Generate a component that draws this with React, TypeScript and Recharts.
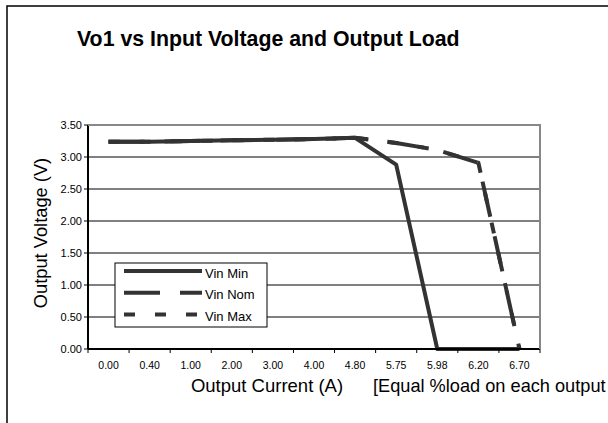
import { LineChart, Line, XAxis, YAxis, CartesianGrid } from 'recharts';

const categories = ['0.00', '0.40', '1.00', '2.00', '3.00', '4.00', '4.80', '5.75', '5.98', '6.20', '6.70'];
const vinMin = [3.24, 3.24, 3.25, 3.26, 3.27, 3.28, 3.30, 2.88, 0, 0, 0];
const vinNom = [3.24, 3.24, 3.25, 3.26, 3.27, 3.28, 3.30, 3.22, 3.11, 2.91, 0];
const vinMax = [3.24, 3.24, 3.25, 3.26, 3.27, 3.28, 3.30, 3.22, 3.11, 2.91, 0];
const yTicks = [0, 0.5, 1, 1.5, 2, 2.5, 3, 3.5];

const series = [
  { key: 'min', name: 'Vin Min', values: vinMin, dash: undefined },
  { key: 'nom', name: 'Vin Nom', values: vinNom, dash: '36 20' },
  { key: 'max', name: 'Vin Max', values: vinMax, dash: '11 20' },
];

const data = categories.map((c, i) => ({
  current: c,
  min: vinMin[i],
  nom: vinNom[i],
  max: vinMax[i],
}));

const FONT = '"Liberation Sans", Arial, sans-serif';
const W = 608;
const H = 423;
const PLOT_W = 452;
const HALF = PLOT_W / categories.length / 2;
const LINE = '#333333';

function XTick(props: any) {
  const { x, y, payload } = props;
  const i = payload.index;
  const axisY = y - 6;
  return (
    <g>
      <line x1={x - HALF} x2={x - HALF} y1={axisY} y2={axisY + 4} stroke="#000" />
      {i === categories.length - 1 && (
        <line x1={x + HALF} x2={x + HALF} y1={axisY} y2={axisY + 4} stroke="#000" />
      )}
      <text x={x} y={y} dy={13.5} textAnchor="middle" fontSize={10.5} fontFamily={FONT} fill="#000">
        {payload.value}
      </text>
    </g>
  );
}

export default function App() {
  return (
    <div style={{ position: 'absolute', left: 0, top: 0, width: W, height: H, background: '#fff' }}>
      <LineChart
        width={W}
        height={H}
        data={data}
        margin={{ top: 125, right: 68, left: 28, bottom: 44 }}
      >
        <CartesianGrid vertical={false} stroke="#000" strokeWidth={1} />
        <XAxis
          dataKey="current"
          tick={<XTick />}
          tickLine={false}
          tickSize={4}
          tickMargin={2}
          interval={0}
          padding={{ left: HALF, right: HALF }}
          axisLine={{ stroke: '#000', strokeWidth: 2 }}
          height={30}
        />
        <YAxis
          domain={[0, 3.5]}
          ticks={yTicks}
          tickFormatter={(v: number) => v.toFixed(2)}
          tick={{ fontSize: 11, fontFamily: FONT, fill: '#000' }}
          tickSize={4}
          tickMargin={2}
          tickLine={{ stroke: '#000' }}
          axisLine={{ stroke: '#000', strokeWidth: 2 }}
          width={60}
        />
        {series.map((s) => (
          <Line
            key={s.key}
            type="linear"
            dataKey={s.key}
            name={s.name}
            stroke={LINE}
            strokeWidth={4}
            strokeDasharray={s.dash}
            strokeLinejoin="round"
            dot={false}
            isAnimationActive={false}
          />
        ))}
      </LineChart>
      <svg
        width={W}
        height={H}
        style={{ position: 'absolute', left: 0, top: 0, pointerEvents: 'none' }}
        fontFamily={FONT}
      >
        <rect x={7} y={6} width={700} height={500} fill="none" stroke="#000" strokeWidth={1.5} />
        <line x1={88} x2={540} y1={125} y2={125} stroke="#888" strokeWidth={2} />
        <line x1={540} x2={540} y1={124} y2={349} stroke="#888" strokeWidth={2} />
        <text x={77} y={46} fontSize={21.3} fontWeight="bold" fill="#000">
          Vo1 vs Input Voltage and Output Load
        </text>
        <text
          x={47}
          y={233}
          fontSize={18.3}
          textAnchor="middle"
          transform="rotate(-90 47 233)"
          fill="#000"
        >
          Output Voltage (V)
        </text>
        <text x={267} y={392} fontSize={18.5} textAnchor="middle" fill="#000">
          Output Current (A)
        </text>
        <text x={373} y={392} fontSize={18.2} fill="#000">
          [Equal %load on each output
        </text>
        <rect x={115} y={263} width={152} height={64} fill="#fff" stroke="#000" strokeWidth={1} />
        {series.map((s, i) => (
          <g key={s.key}>
            <line
              x1={124}
              x2={202}
              y1={271 + i * 21.7}
              y2={271 + i * 21.7}
              stroke={LINE}
              strokeWidth={4}
              strokeDasharray={s.dash}
            />
            <text x={205} y={273 + i * 21.5} dy={4.6} fontSize={13} fill="#000">
              {s.name}
            </text>
          </g>
        ))}
      </svg>
    </div>
  );
}
